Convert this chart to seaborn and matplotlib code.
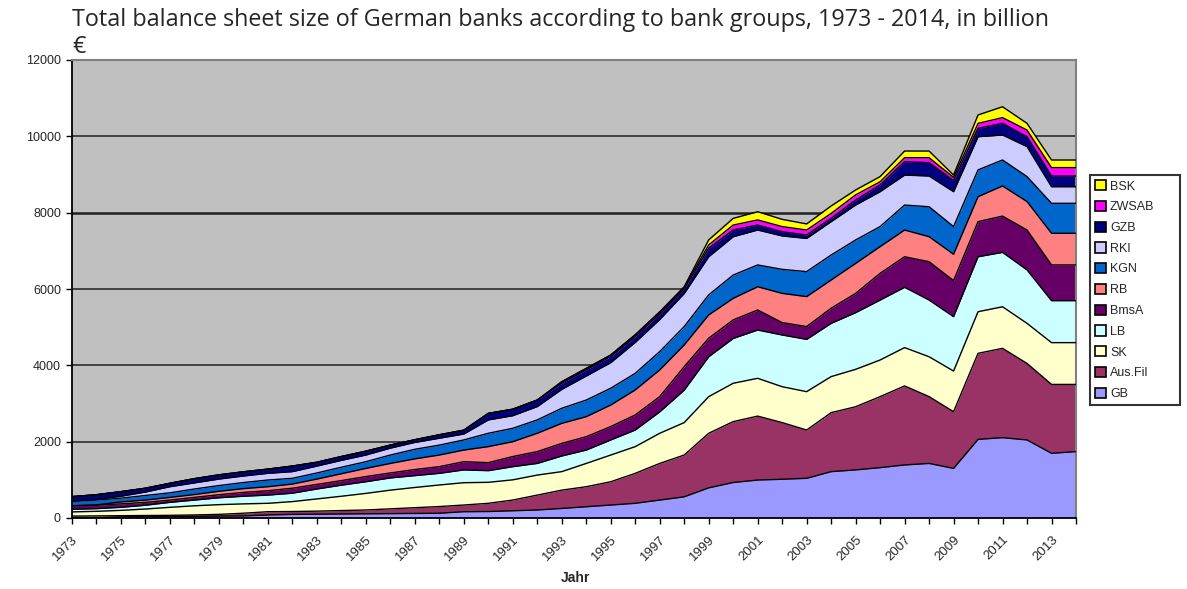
import numpy as np
import pandas as pd
import matplotlib
matplotlib.use("Agg")
import matplotlib.pyplot as plt
from matplotlib.patches import Patch
import seaborn as sns

# Balance sheet totals by bank group, billion EUR, 1973-2014
years = list(range(1973, 2015))

GB = [0, 0, 30, 35, 40, 45, 50, 55, 80, 95, 100, 105, 110, 115, 120, 125, 165, 170, 190, 210, 250,
      295, 340, 385, 470, 555, 790, 930, 995, 1015, 1040, 1215, 1260, 1320, 1390, 1430, 1300, 2060,
      2105, 2045, 1695, 1740]
AUS_FIL = [50, 55, 30, 30, 30, 35, 45, 70, 85, 75, 80, 90, 100, 125, 150, 175, 175, 215, 280, 390, 480,
           525, 610, 785, 960, 1095, 1430, 1595, 1675, 1485, 1265, 1545, 1655, 1860, 2070, 1750, 1485,
           2255, 2340, 2005, 1805, 1760]
SK = [110, 120, 140, 170, 210, 240, 255, 245, 220, 260, 320, 375, 435, 490, 530, 565, 585, 550, 530, 525,
      485, 610, 700, 700, 790, 850, 960, 1005, 990, 940, 1005, 945, 980, 960, 1005, 1045, 1065, 1090,
      1090, 1050, 1095, 1095]
LB = [70, 70, 80, 100, 130, 150, 180, 200, 215, 220, 260, 290, 305, 320, 310, 305, 335, 305, 345, 305,
      410, 350, 395, 435, 560, 850, 1045, 1175, 1265, 1355, 1370, 1395, 1485, 1570, 1580, 1485, 1425,
      1440, 1425, 1400, 1100, 1100]
BMSA = [90, 90, 90, 75, 60, 70, 80, 100, 115, 130, 120, 120, 135, 130, 160, 175, 215, 210, 265, 310, 330,
        350, 350, 395, 400, 615, 485, 485, 525, 325, 335, 395, 505, 700, 800, 1005, 945, 920, 950, 1045,
        935, 935]
RB = [0, 10, 50, 60, 70, 75, 90, 100, 105, 110, 140, 180, 215, 250, 280, 305, 305, 420, 390, 480, 525,
      525, 565, 655, 700, 570, 610, 565, 610, 765, 785, 740, 785, 700, 700, 655, 690, 655, 790, 745,
      830, 830]
KGN = [120, 125, 100, 120, 120, 145, 150, 160, 175, 150, 160, 170, 175, 220, 250, 260, 265, 350, 350,
       350, 395, 435, 440, 435, 480, 480, 525, 610, 570, 630, 655, 655, 615, 525, 655, 785, 725, 700,
       680, 655, 785, 785]
RKI = [0, 20, 50, 90, 160, 160, 170, 170, 175, 175, 180, 180, 175, 180, 180, 180, 155, 350, 330, 350,
       495, 630, 670, 810, 840, 865, 1000, 1005, 915, 875, 870, 875, 915, 915, 785, 805, 915, 870, 655,
       785, 435, 435]
GZB = [120, 120, 120, 100, 90, 110, 110, 110, 110, 145, 100, 100, 100, 80, 70, 90, 100, 170, 170, 170,
       160, 160, 160, 150, 150, 120, 220, 175, 130, 110, 90, 85, 130, 175, 350, 350, 290, 220, 305, 260,
       280, 280]
ZWSAB = [0, 0, 0, 0, 0, 0, 0, 0, 0, 0, 0, 0, 0, 0, 0, 0, 0, 0, 0, 0, 40, 40, 40, 50, 50, 40, 90, 130,
         135, 135, 130, 130, 135, 85, 105, 130, 85, 130, 150, 175, 220, 220]
BSK = [0, 0, 0, 0, 0, 0, 0, 0, 0, 0, 0, 0, 0, 0, 0, 0, 0, 0, 0, 0, 0, 0, 0, 0, 0, 20, 130, 175, 215,
       190, 160, 195, 130, 135, 175, 175, 60, 220, 285, 175, 200, 200]

group_names = ["GB", "Aus.Fil", "SK", "LB", "BmsA", "RB", "KGN", "RKI", "GZB", "ZWSAB", "BSK"]
group_values = [GB, AUS_FIL, SK, LB, BMSA, RB, KGN, RKI, GZB, ZWSAB, BSK]
group_colors = ["#9999FF", "#993366", "#FFFFCC", "#CCFFFF", "#660066", "#FF8080",
                "#0066CC", "#CCCCFF", "#000080", "#FF00FF", "#FFFF00"]

y_ticks = [0, 2000, 4000, 6000, 8000, 10000, 12000]
x_labels = [str(y) if (y - 1973) % 2 == 0 else "" for y in years]

sns.set_theme(style="white")
plt.rcParams["font.family"] = ["Liberation Sans", "DejaVu Sans"]

W, H = 1187, 589
fig = plt.figure(figsize=(W / 100, H / 100), dpi=100)
fig.patch.set_facecolor("white")
ax = fig.add_axes([72 / W, 1 - 518 / H, (1076 - 72) / W, (518 - 60) / H])
ax.set_facecolor("#C0C0C0")

pos = np.arange(len(years))
ax.stackplot(pos, group_values, colors=group_colors, linewidth=0, zorder=2)

# upper edge of every band, drawn as black outlines
tops = np.cumsum(np.array(group_values, dtype=float), axis=0)
edges = pd.DataFrame({
    "pos": np.tile(pos, len(group_names)),
    "top": tops.ravel(),
    "group": np.repeat(group_names, len(pos)),
})
sns.lineplot(data=edges, x="pos", y="top", units="group", estimator=None,
             color="black", linewidth=1.0, ax=ax, legend=False, zorder=3)

# horizontal gridlines behind the areas
for yv in y_ticks[1:-1]:
    ax.axhline(yv, color="#202020", linewidth=1.8 if yv == 8000 else 1.1, zorder=1)

ax.set_xlim(0, len(years) - 1)
ax.set_ylim(0, 12000)
ax.set_yticks(y_ticks)
ax.set_yticklabels([str(v) for v in y_ticks], fontsize=9)
ax.set_xticks(pos)
ax.set_xticklabels(x_labels, fontsize=9.5, rotation=45, ha="right", va="top",
                   rotation_mode="anchor")
ax.tick_params(axis="both", which="major", direction="out", length=4, width=1,
               color="black", bottom=True, left=True)
ax.tick_params(axis="x", pad=7)
ax.tick_params(axis="y", pad=4)
ax.set_xlabel("")
ax.set_ylabel("")

for side in ("left", "bottom"):
    ax.spines[side].set_color("black")
    ax.spines[side].set_linewidth(1.3)
for side in ("top", "right"):
    ax.spines[side].set_color("#808080")
    ax.spines[side].set_linewidth(1.5)

fig.text(72 / W, 1 - 8 / H,
         "Total balance sheet size of German banks according to bank groups, 1973 - 2014, in billion\n€",
         ha="left", va="top", fontsize=16.8, family=["Open Sans", "DejaVu Sans"], linespacing=1.15)
fig.text(575 / W, 1 - 578 / H, "Jahr", ha="center", va="center", fontsize=10, fontweight="bold")

handles = [Patch(facecolor=c, edgecolor="black", linewidth=1.2) for c in group_colors][::-1]
leg = fig.legend(handles, group_names[::-1], loc="upper left", mode="expand",
                 bbox_to_anchor=(1090 / W, 1 - 405 / H, 90 / W, 230 / H),
                 bbox_transform=fig.transFigure,
                 fontsize=9, frameon=True, fancybox=False, handlelength=0.9, handleheight=0.9,
                 handletextpad=0.3, labelspacing=0.66, borderpad=0.4, borderaxespad=0)
leg.get_frame().set_edgecolor("black")
leg.get_frame().set_linewidth(1.5)
leg.get_frame().set_facecolor("white")

fig.savefig("out.png", dpi=100)
